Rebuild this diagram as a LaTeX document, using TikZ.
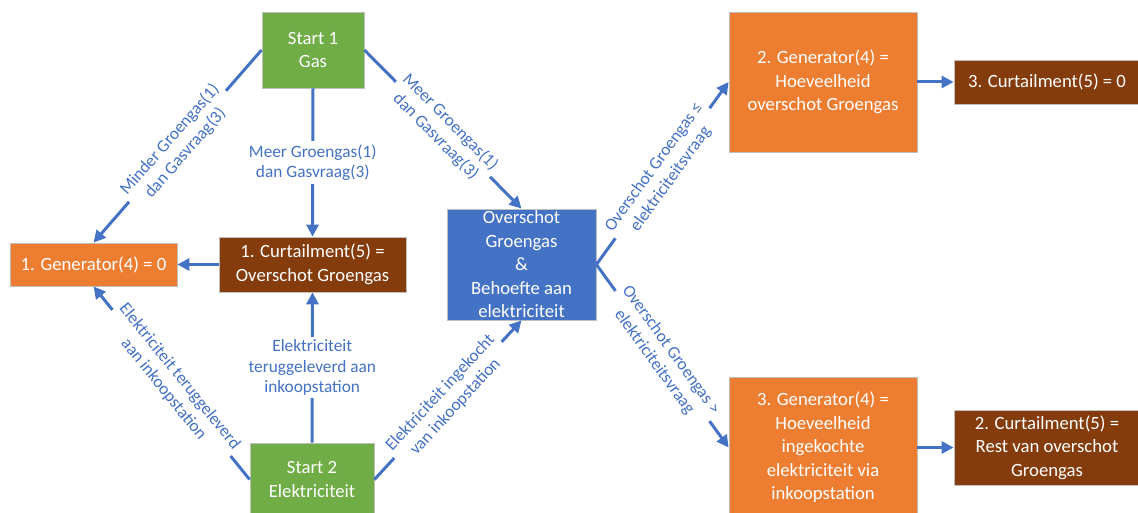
\documentclass[tikz,border=0pt]{standalone}
\usepackage{fontspec}
\setmainfont{Carlito}
\usetikzlibrary{arrows.meta}
\definecolor{cgreen}{HTML}{70AD47}
\definecolor{corange}{HTML}{ED7D31}
\definecolor{cbrown}{HTML}{843C0C}
\definecolor{cblue}{HTML}{4472C4}
\definecolor{cborder}{HTML}{BFBFBF}
\begin{document}
\begin{tikzpicture}[x=1pt,y=-1pt,
 box/.style={draw=cborder, line width=0.8pt, text=white, align=center, inner sep=0pt,
   font=\fontsize{18.7}{23.5}\selectfont},
 conn/.style={draw=cblue, line width=3pt, -{Triangle[length=12pt,width=12pt]}},
 lbl/.style={fill=white, text=cblue, align=center, inner sep=3pt,
   font=\fontsize{17.3}{20.5}\selectfont}]
\useasboundingbox (0,0) rectangle (1138,513);
\clip (0,0) rectangle (1138,513);
% nodes
\node[box, fill=cgreen, minimum width=102pt, minimum height=76pt] (s1) at (313,50) {Start 1\\Gas};
\node[box, fill=cgreen, minimum width=124pt, minimum height=73pt] (s2) at (312,479.5) {Start 2\\Elektriciteit};
\node[box, fill=corange, minimum width=167pt, minimum height=43pt] (gen1) at (93.5,264.5) {1. Generator(4) = 0};
\node[box, fill=cbrown, minimum width=187pt, minimum height=55pt] (cur1) at (312.5,264.5) {1. Curtailment(5) =\\Overschot Groengas};
\node[box, fill=cblue, minimum width=149pt, minimum height=111pt] (ov) at (521.5,264.5) {Overschot\\Groengas\\\&\\Behoefte aan\\elektriciteit};
\node[box, fill=corange, minimum width=188pt, minimum height=140pt] (gen2) at (823,82) {2. Generator(4) =\\Hoeveelheid\\overschot Groengas};
\node[box, fill=cbrown, minimum width=186pt, minimum height=44pt] (cur3) at (1047,82) {3. Curtailment(5) = 0};
\node[box, fill=corange, minimum width=188pt, minimum height=141pt] (gen3) at (823,447.5) {3. Generator(4) =\\Hoeveelheid\\ingekochte\\elektriciteit via\\inkoopstation};
\node[box, fill=cbrown, minimum width=186pt, minimum height=75pt] (cur2) at (1047,447.5) {2. Curtailment(5) =\\Rest van overschot\\Groengas};
% connectors
\draw[conn] (s1.west) -- node[lbl, sloped] {Minder Groengas(1)\\dan Gasvraag(3)} (gen1.north);
\draw[conn] (s1.south) -- node[lbl] {Meer Groengas(1)\\dan Gasvraag(3)} (cur1.north);
\draw[conn] (s1.east) -- node[lbl, sloped] {Meer Groengas(1)\\dan Gasvraag(3)} (ov.north);
\draw[conn] (cur1.west) -- (gen1.east);
\draw[conn] (s2.north) -- node[lbl] {Elektriciteit\\teruggeleverd aan\\inkoopstation} (cur1.south);
\draw[conn] (s2.west) -- node[lbl, sloped] {Elektriciteit teruggeleverd\\aan inkoopstation} (gen1.south);
\draw[conn] (s2.east) -- node[lbl, sloped] {Elektriciteit ingekocht\\van inkoopstation} (ov.south);
\draw[conn] (ov.east) -- node[lbl, sloped] {Overschot Groengas ≤\\elektriciteitsvraag} (gen2.west);
\draw[conn] (ov.east) -- node[lbl, sloped] {Overschot Groengas >\\elektriciteitsvraag} (gen3.west);
\draw[conn] (gen2.east) -- (cur3.west);
\draw[conn] (gen3.east) -- (cur2.west);
\end{tikzpicture}
\end{document}
